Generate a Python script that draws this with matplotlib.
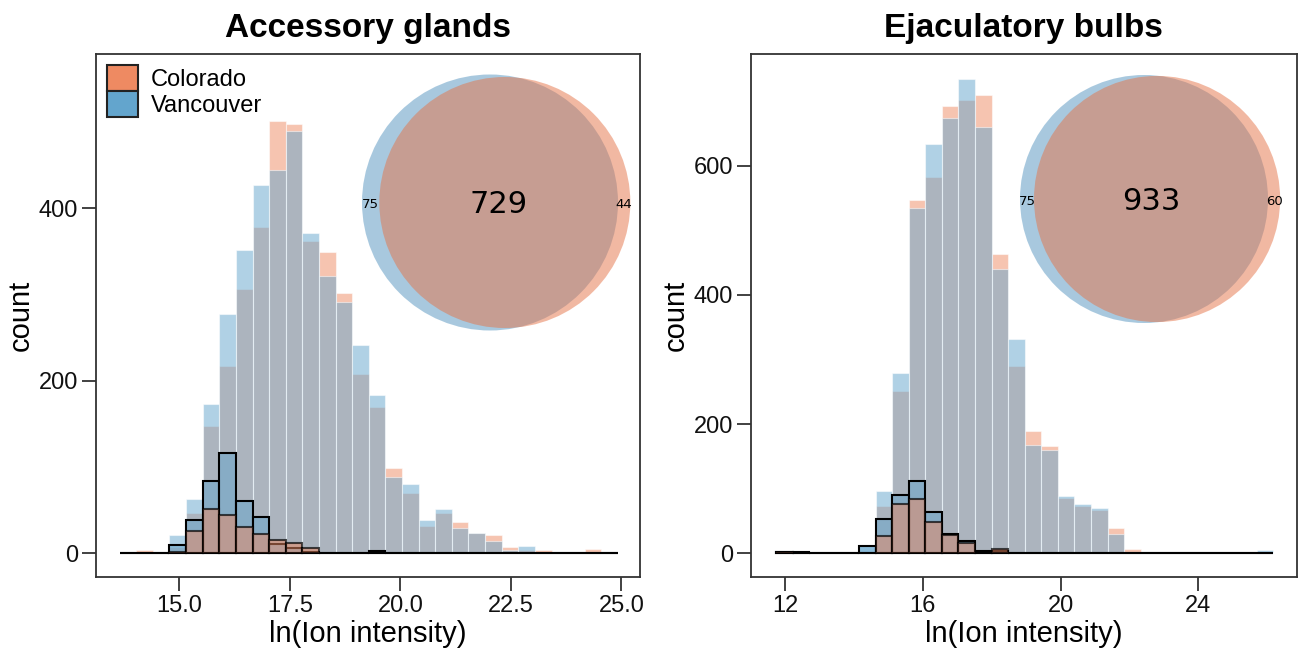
import numpy as np
import matplotlib
matplotlib.use("Agg")
import matplotlib.pyplot as plt
from matplotlib.patches import Patch, Circle

plt.rcParams['font.family'] = ['Liberation Sans', 'DejaVu Sans']

# ---- data ----
populations = ["Colorado", "Vancouver"]
colors = ["#EE8A62", "#63A5CD"]

# Accessory glands: 30 bins
ag_bin_start, ag_bin_width = 13.65, 0.3757
ag_colorado = [0, 4, 0, 8, 47, 148, 217, 307, 379, 501, 498, 362, 349, 302, 208,
               170, 99, 70, 32, 47, 36, 24, 21, 7, 4, 4, 1, 0, 5, 0]
ag_vancouver = [0, 0, 2, 21, 63, 173, 278, 352, 427, 444, 490, 372, 322, 292, 242,
                184, 89, 80, 39, 52, 30, 24, 14, 4, 9, 1, 1, 0, 0, 1]
ag_colorado_sub = [0, 0, 0, 2, 26, 51, 45, 31, 22, 16, 12, 6, 1, 0, 1,
                   1, 0, 0, 0, 0, 0, 0, 0, 0, 0, 0, 0, 0, 0, 0]
ag_vancouver_sub = [0, 0, 0, 10, 39, 84, 116, 61, 42, 11, 6, 2, 1, 0, 0,
                    3, 0, 0, 0, 0, 0, 0, 0, 0, 0, 0, 0, 0, 0, 0]
ag_venn = {"vancouver_only": 75, "both": 729, "colorado_only": 44}

# Ejaculatory bulbs: 30 bins
eb_bin_start, eb_bin_width = 11.74, 0.4813
eb_colorado = [3, 1, 0, 0, 1, 3, 73, 251, 547, 582, 692, 702, 709, 464, 290,
               189, 167, 86, 73, 68, 40, 7, 1, 1, 1, 1, 1, 1, 2, 0]
eb_vancouver = [2, 1, 0, 0, 1, 12, 97, 280, 535, 633, 674, 735, 660, 440, 332,
                168, 160, 89, 76, 70, 30, 3, 1, 1, 1, 1, 1, 1, 1, 5]
eb_colorado_sub = [2, 1, 0, 0, 0, 0, 27, 77, 84, 49, 28, 16, 1, 7, 0,
                   0, 0, 0, 0, 0, 0, 0, 0, 0, 0, 0, 0, 0, 0, 0]
eb_vancouver_sub = [3, 2, 0, 0, 1, 12, 53, 90, 112, 64, 30, 19, 4, 4, 0,
                    0, 0, 0, 0, 0, 0, 0, 0, 0, 0, 0, 0, 0, 0, 0]
eb_venn = {"vancouver_only": 75, "both": 933, "colorado_only": 60}

W, H = 1300, 653
fig = plt.figure(figsize=(13, 6.53), dpi=100)


def lens_area(r1, r2, d):
    if d >= r1 + r2:
        return 0.0
    if d <= abs(r1 - r2):
        return np.pi * min(r1, r2) ** 2
    a1 = r1 ** 2 * np.arccos((d * d + r1 * r1 - r2 * r2) / (2 * d * r1))
    a2 = r2 ** 2 * np.arccos((d * d + r2 * r2 - r1 * r1) / (2 * d * r2))
    a3 = 0.5 * np.sqrt((-d + r1 + r2) * (d + r1 - r2) * (d - r1 + r2) * (d + r1 + r2))
    return a1 + a2 - a3


def draw_venn(venn, cx, cy, r_px):
    # radii from set sizes, distance so the lens area equals the overlap
    rb = np.sqrt((venn["vancouver_only"] + venn["both"]) / np.pi)
    rs = np.sqrt((venn["colorado_only"] + venn["both"]) / np.pi)
    lo, hi = abs(rb - rs), rb + rs
    for _ in range(60):
        mid = (lo + hi) / 2
        if lens_area(rb, rs, mid) > venn["both"]:
            lo = mid
        else:
            hi = mid
    d = (lo + hi) / 2
    k = r_px / rb
    m = 1.0
    x0, x1 = -rb - m, d + rs + m
    y0, y1 = -rb - m, rb + m
    left = (cx + x0 * k) / W
    bottom = 1 - (cy + y1 * k) / H
    iax = fig.add_axes([left, bottom, (x1 - x0) * k / W, (y1 - y0) * k / H])
    iax.set_xlim(x0, x1)
    iax.set_ylim(y0, y1)
    iax.axis("off")
    iax.patch.set_alpha(0)
    iax.add_patch(Circle((0, 0), rb, facecolor="#5393BF", alpha=0.5, lw=0))
    iax.add_patch(Circle((d, 0), rs, facecolor="#E57347", alpha=0.5, lw=0))
    iax.text((d - rs + rb) / 2, -0.3, str(venn["both"]), ha="center", va="center",
             fontsize=22, family="DejaVu Sans")
    iax.text((-rb + d - rs) / 2, -0.3, str(venn["vancouver_only"]), ha="center",
             va="center", fontsize=9.5, family="DejaVu Sans")
    iax.text((rb + d + rs) / 2, -0.3, str(venn["colorado_only"]), ha="center",
             va="center", fontsize=9.5, family="DejaVu Sans")


def draw_panel(rect, title, start, width, col, van, col_sub, van_sub,
               xlim, ylim, xticks, xticklabels, yticks):
    ax = fig.add_axes(rect)
    edges = start + width * np.arange(len(col) + 1)
    left = edges[:-1]
    ax.bar(left, col, width=width, align="edge", color=colors[0], alpha=0.5,
           edgecolor="white", linewidth=0.8, zorder=2)
    ax.bar(left, van, width=width, align="edge", color=colors[1], alpha=0.5,
           edgecolor="white", linewidth=0.8, zorder=2)
    ax.bar(left, van_sub, width=width, align="edge", facecolor=colors[1] + "80",
           edgecolor="black", linewidth=1.5, zorder=3)
    ax.bar(left, col_sub, width=width, align="edge", facecolor=colors[0] + "80",
           edgecolor="#000000b0", linewidth=1.5, zorder=3)
    ax.set_xlim(*xlim)
    ax.set_ylim(*ylim)
    ax.set_xticks(xticks)
    ax.set_xticklabels(xticklabels)
    ax.set_yticks(yticks)
    for s in ax.spines.values():
        s.set_color("#333333")
        s.set_linewidth(1.3)
    ax.tick_params(colors="#333333", labelcolor="#111111", labelsize=17,
                   length=10, width=1.3, pad=3)
    ax.set_title(title, fontsize=24, fontweight="bold", pad=12)
    ax.set_xlabel("ln(Ion intensity)", fontsize=21, labelpad=2)
    ax.set_ylabel("count", fontsize=21, labelpad=3)
    return ax


ax1 = draw_panel([96 / W, 1 - 576.7 / H, 544 / W, 522.7 / H], "Accessory glands",
                 ag_bin_start, ag_bin_width, ag_colorado, ag_vancouver,
                 ag_colorado_sub, ag_vancouver_sub,
                 (13.115, 25.42), (-27, 579), [15, 17.5, 20, 22.5, 25],
                 ["15.0", "17.5", "20.0", "22.5", "25.0"], [0, 200, 400])
ax2 = draw_panel([751 / W, 1 - 576.7 / H, 545.7 / W, 522.7 / H], "Ejaculatory bulbs",
                 eb_bin_start, eb_bin_width, eb_colorado, eb_vancouver,
                 eb_colorado_sub, eb_vancouver_sub,
                 (11.01, 26.86), (-36, 773), [12, 16, 20, 24],
                 ["12", "16", "20", "24"], [0, 200, 400, 600])

handles = [Patch(facecolor=c, edgecolor="#222222", linewidth=1.5) for c in colors]
ax1.legend(handles, populations, loc="upper left",
           bbox_to_anchor=((107 - 96) / 544, (576.7 - 65) / 522.7),
           frameon=False, fontsize=17, handlelength=1.3, handleheight=1.3,
           handletextpad=0.55, labelspacing=0.0, borderpad=0, borderaxespad=0)

draw_venn(ag_venn, 490, 202.5, 128)
draw_venn(eb_venn, 1144, 199, 124)

fig.savefig("out.png", dpi=100)
